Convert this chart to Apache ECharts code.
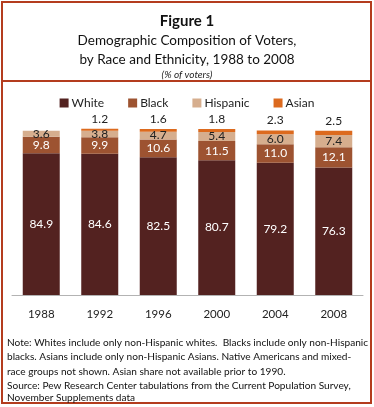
<!DOCTYPE html>
<html><head><meta charset="utf-8">
<script src="https://cdn.jsdelivr.net/npm/echarts@6/dist/echarts.min.js"></script>
<style>html,body{margin:0;padding:0;background:#fff}#c{width:374px;height:407px}</style>
</head><body><div id="c"></div>
<script>
const years = ['1988','1992','1996','2000','2004','2008'];
const white = [84.9, 84.6, 82.5, 80.7, 79.2, 76.3];
const black = [9.8, 9.9, 10.6, 11.5, 11.0, 12.1];
const hispanic = [3.6, 3.8, 4.7, 5.4, 6.0, 7.4];
const asian = [null, 1.2, 1.6, 1.8, 2.3, 2.5];
const seriesNames = ['White','Black','Hispanic','Asian'];
const colors = ['#532220','#9d5331','#d6ae8e','#dc6a1e'];
const noteLines = [
 'Note: Whites include only non-Hispanic whites.  Blacks include only non-Hispanic',
 'blacks. Asians include only non-Hispanic Asians. Native Americans and mixed-',
 'race groups not shown. Asian share not available prior to 1990.',
 'Source: Pew Research Center tabulations from the Current Population Survey,',
 'November Supplements data'
];
const FONT = 'Lato, "Noto Sans", sans-serif';
const chart = echarts.init(document.getElementById('c'), null, {renderer:'canvas'});
const datas = [white, black, hispanic, asian];
const labelCfg = [
  {show:true, position:'inside', color:'#fff', fontSize:12},
  {show:true, position:'inside', color:'#fff', fontSize:12},
  {show:true, position:'inside', color:'#222', fontSize:12},
  {show:true, position:'top', distance:4, color:'#222', fontSize:12}
];
const series = seriesNames.map((n,i)=>({
  name:n, type:'bar', stack:'s', barWidth:37,
  data: datas[i],
  itemStyle:{color:colors[i]},
  label: Object.assign({fontFamily:FONT, formatter:p=>p.value==null?'':p.value.toFixed(1)}, labelCfg[i]),
  emphasis:{disabled:true}
}));
chart.setOption({
  animation:false,
  textStyle:{fontFamily:FONT},
  title:[
    {text:'Figure 1', left:'center', top:9, textStyle:{fontSize:15, fontWeight:'bold', color:'#111', fontFamily:FONT}},
    {text:'Demographic Composition of Voters,', left:'center', top:29, textStyle:{fontSize:13.5, fontWeight:'normal', color:'#111', fontFamily:FONT}},
    {text:'by Race and Ethnicity, 1988 to 2008', left:'center', top:48, textStyle:{fontSize:13.5, fontWeight:'normal', color:'#111', fontFamily:FONT}},
    {text:'(% of voters)', left:'center', top:65, textStyle:{fontSize:10, fontStyle:'italic', fontWeight:'normal', color:'#222', fontFamily:FONT}}
  ],
  legend:{
    data:seriesNames, top:92, left:'center', itemWidth:9, itemHeight:9, itemGap:24, icon:'rect',
    textStyle:{fontSize:12, color:'#222', fontFamily:FONT, padding:[0,0,0,-2]}
  },
  grid:{left:12, right:11, top:128, bottom:112, containLabel:false},
  xAxis:{type:'category', data:years,
    axisLine:{lineStyle:{color:'#b3b3b3', width:1}}, axisTick:{show:false},
    axisLabel:{fontSize:11.5, color:'#222', margin:13, fontFamily:FONT}},
  yAxis:{type:'value', min:0, max:100, show:false, splitLine:{show:false}},
  series:series,
  graphic:[
    {type:'rect', shape:{x:2, y:2, width:369, height:401}, style:{fill:'none', stroke:'#b43c1e', lineWidth:2}, silent:true},
    {type:'line', shape:{x1:2, y1:81, x2:371, y2:81}, style:{stroke:'#b43c1e', lineWidth:2}, silent:true},
    {type:'text', left:7, top:335, style:{text:noteLines.slice(0,3).join('\n'), fontSize:10.1, lineHeight:14.5, fill:'#111', fontFamily:FONT}},
    {type:'text', left:7, top:379, style:{text:noteLines.slice(3).join('\n'), fontSize:10.1, lineHeight:12.5, fill:'#111', fontFamily:FONT}}
  ]
});
</script></body></html>
